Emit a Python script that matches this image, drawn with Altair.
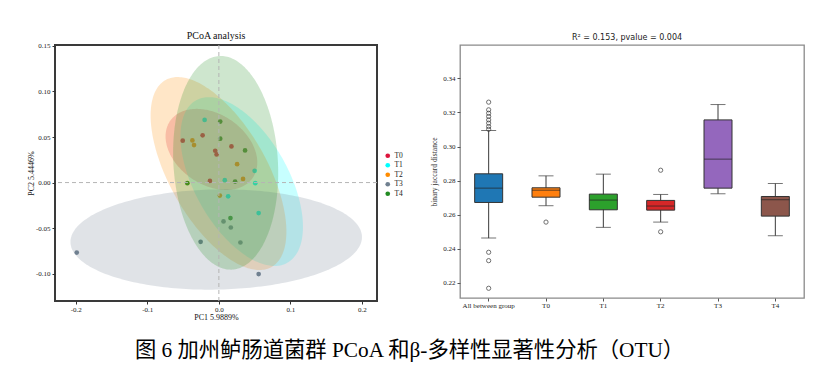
import altair as alt
import numpy as np
import pandas as pd

# ---------------- PCoA data (left panel) ----------------
groups = ["T0", "T1", "T2", "T3", "T4"]
group_colors = ["#DC143C", "#00FFFF", "#FF8C00", "#708090", "#228B22"]

pc1_T0 = [-0.0505, -0.0227, -0.0051, -0.0032, 0.0176, -0.0125]
pc2_T0 = [0.0460, 0.0518, 0.0349, 0.0309, 0.0397, 0.0018]
pc1_T1 = [-0.0199, 0.0083, 0.0130, 0.0500, 0.0509, 0.0556]
pc2_T1 = [0.0688, 0.0026, -0.0151, 0.0129, -0.0007, -0.0335]
pc1_T2 = [-0.0370, -0.0347, 0.0255, 0.0338, 0.0014]
pc2_T2 = [0.0463, 0.0412, 0.0202, 0.0040, -0.0143]
pc1_T3 = [-0.1986, -0.0255, 0.0065, 0.0167, 0.0301, 0.0556]
pc2_T3 = [-0.0768, -0.0651, -0.0426, -0.0493, -0.0658, -0.1004]
pc1_T4 = [0.0019, 0.0019, 0.0366, 0.0227, -0.0440, 0.0162]
pc2_T4 = [0.0669, 0.0482, 0.0353, 0.0011, -0.0007, -0.0390]

# confidence ellipses (data units)
ell_cx = [-0.0104, 0.0319, -0.0005, -0.0037, 0.0095]
ell_cy = [0.0364, 0.0011, 0.0099, -0.0625, 0.0217]
ell_a = [0.0667, 0.1107, 0.1275, 0.2037, 0.1176]
ell_b = [0.0405, 0.0605, 0.0630, 0.0550, 0.0729]
ell_angle = [-20.4, -49.2, -50.2, 0.8, -84.5]

pc1_title = "PC1 5.9889%"
pc2_title = "PC2 5.4446%"

# ---------------- beta-diversity boxplot (right panel) ----------------
box_cats = ["All between group", "T0", "T1", "T2", "T3", "T4"]
box_colors = ["#1f77b4", "#ff7f0e", "#2ca02c", "#d62728", "#9467bd", "#8c564b"]
box_low = [0.2463, 0.2653, 0.2526, 0.2557, 0.2723, 0.2477]
box_q1 = [0.2672, 0.2703, 0.2629, 0.2627, 0.2756, 0.2592]
box_med = [0.2756, 0.2744, 0.2686, 0.2651, 0.2926, 0.2688]
box_q3 = [0.2840, 0.2758, 0.2721, 0.2684, 0.3156, 0.2707]
box_high = [0.3094, 0.2828, 0.2838, 0.2719, 0.3246, 0.2783]

out_cat = ["All between group"] * 11 + ["T0", "T2", "T2"]
out_val = [0.3260, 0.3215, 0.3195, 0.3176, 0.3156, 0.3137, 0.3117, 0.3101,
           0.2380, 0.2331, 0.2169, 0.2557, 0.2861, 0.2500]

caption = "图 6 加州鲈肠道菌群 PCoA 和β-多样性显著性分析（OTU）"

SERIF = "Liberation Serif"

# ---------------- build tables ----------------
pc1 = [pc1_T0, pc1_T1, pc1_T2, pc1_T3, pc1_T4]
pc2 = [pc2_T0, pc2_T1, pc2_T2, pc2_T3, pc2_T4]
pts = pd.DataFrame(
    [(g, x, y) for g, xs, ys in zip(groups, pc1, pc2) for x, y in zip(xs, ys)],
    columns=["group", "pc1", "pc2"],
)

rows = []
for g, cx, cy, a, b, ang in zip(groups, ell_cx, ell_cy, ell_a, ell_b, ell_angle):
    th = np.deg2rad(ang)
    c, s = np.cos(th), np.sin(th)
    s11 = a * a * c * c + b * b * s * s
    s22 = a * a * s * s + b * b * c * c
    s12 = (a * a - b * b) * s * c
    det = s11 * s22 - s12 * s12
    for t in np.linspace(np.pi, 0, 121):
        dx = np.sqrt(s11) * np.cos(t)
        mid = s12 / s11 * dx
        half = np.sqrt(max(det / s11 * (1 - dx * dx / s11), 0))
        rows.append((g, cx + dx, cy + mid - half, cy + mid + half))
ell = pd.DataFrame(rows, columns=["group", "x", "ylo", "yhi"])

color_scale = alt.Scale(domain=groups, range=group_colors)
xs = alt.Scale(domain=[-0.229, 0.221], nice=False, zero=False)
ys = alt.Scale(domain=[-0.130, 0.151], nice=False, zero=False)

neg_lbl = "datum.value < 0 ? '-' + format(-datum.value, '{f}') : format(datum.value, '{f}')"

x_axis = alt.Axis(values=[-0.2, -0.1, 0.0, 0.1, 0.2], labelExpr=neg_lbl.format(f=".1f"),
                  title=pc1_title, grid=False, domain=False, tickSize=3, tickColor="#333",
                  labelFont=SERIF, labelFontSize=7, labelColor="#222", labelPadding=1,
                  titleFont=SERIF, titleFontSize=8, titleFontWeight="normal",
                  titleColor="#111", titlePadding=1)
y_axis = alt.Axis(values=[-0.10, -0.05, 0.0, 0.05, 0.10, 0.15], labelExpr=neg_lbl.format(f=".2f"),
                  title=pc2_title, grid=False, domain=False, tickSize=3, tickColor="#333",
                  labelFont=SERIF, labelFontSize=7, labelColor="#222", labelPadding=2,
                  titleFont=SERIF, titleFontSize=8, titleFontWeight="normal",
                  titleColor="#111", titlePadding=0)

legend = alt.Legend(
    title=None, orient="none", legendX=329, legendY=107,
    labelFont=SERIF, labelFontSize=7.5, labelColor="#222", symbolSize=22,
    symbolType="circle", symbolOpacity=1, symbolStrokeWidth=0, rowPadding=0.5, labelOffset=3)

points = alt.Chart(pts).mark_circle(size=22, opacity=1).encode(
    x=alt.X("pc1:Q", scale=xs, axis=x_axis),
    y=alt.Y("pc2:Q", scale=ys, axis=y_axis),
    color=alt.Color("group:N", scale=color_scale, legend=legend),
)

ellipses = alt.Chart(ell).mark_area(fillOpacity=0.22, strokeWidth=0).encode(
    x=alt.X("x:Q", scale=xs),
    y=alt.Y("ylo:Q", scale=ys, stack=None),
    y2="yhi:Q",
    color=alt.Color("group:N", scale=color_scale, legend=legend),
    detail="group:N",
)

vline = alt.Chart(pd.DataFrame({"v": [0.0]})).mark_rule(
    strokeDash=[4, 3], color="#b5b5b5", strokeWidth=1).encode(x=alt.X("v:Q", scale=xs))
hline = alt.Chart(pd.DataFrame({"v": [0.0]})).mark_rule(
    strokeDash=[4, 3], color="#b5b5b5", strokeWidth=1).encode(y=alt.Y("v:Q", scale=ys))

left = alt.layer(points, ellipses, vline, hline).properties(
    width=322, height=256,
    title=alt.TitleParams("PCoA analysis", font=SERIF, fontSize=10, fontWeight="normal",
                          color="#111", offset=1),
    view=alt.ViewBackground(stroke="#3a3a3a", strokeWidth=2),
)

# ---------------- right panel ----------------
boxes = pd.DataFrame({"cat": box_cats, "low": box_low, "q1": box_q1, "med": box_med,
                      "q3": box_q3, "high": box_high})
outs = pd.DataFrame({"cat": out_cat, "val": out_val})

bx = alt.Scale(domain=box_cats, paddingInner=0, paddingOuter=0)
by = alt.Scale(domain=[0.2112, 0.3595], nice=False, zero=False)
box_color = alt.Scale(domain=box_cats, range=box_colors)

bx_axis = alt.Axis(title=None, labelAngle=0, grid=False, domain=False, tickSize=3,
                   tickColor="#555", labelFont=SERIF, labelFontSize=7, labelColor="#222",
                   labelPadding=0)
by_axis = alt.Axis(values=[0.22, 0.24, 0.26, 0.28, 0.30, 0.32, 0.34], format=".2f",
                   title="binary jaccard distance", grid=False, domain=False, tickSize=3,
                   tickColor="#555", labelFont=SERIF, labelFontSize=7, labelColor="#222",
                   labelPadding=2, titleFont=SERIF, titleFontSize=7.5,
                   titleFontWeight="normal", titleColor="#333", titlePadding=4)

whisk = alt.Chart(boxes).mark_rule(color="#3a3a3a", strokeWidth=1).encode(
    x=alt.X("cat:N", scale=bx, axis=bx_axis, sort=box_cats),
    y=alt.Y("low:Q", scale=by, axis=by_axis),
    y2="high:Q",
)
body = alt.Chart(boxes).mark_bar(size=28, stroke="#333", strokeWidth=1).encode(
    x=alt.X("cat:N", scale=bx, sort=box_cats),
    y=alt.Y("q1:Q", scale=by),
    y2="q3:Q",
    fill=alt.Fill("cat:N", scale=box_color, legend=None),
)
median = alt.Chart(boxes).mark_tick(size=28, thickness=1, color="#222").encode(
    x=alt.X("cat:N", scale=bx, sort=box_cats), y=alt.Y("med:Q", scale=by))
cap_lo = alt.Chart(boxes).mark_tick(size=15, thickness=1, color="#3a3a3a").encode(
    x=alt.X("cat:N", scale=bx, sort=box_cats), y=alt.Y("low:Q", scale=by))
cap_hi = alt.Chart(boxes).mark_tick(size=15, thickness=1, color="#3a3a3a").encode(
    x=alt.X("cat:N", scale=bx, sort=box_cats), y=alt.Y("high:Q", scale=by))
fliers = alt.Chart(outs).mark_point(shape="circle", filled=False, size=18, color="#333",
                                    strokeWidth=1).encode(
    x=alt.X("cat:N", scale=bx, sort=box_cats), y=alt.Y("val:Q", scale=by))

right = alt.layer(whisk, body, median, cap_lo, cap_hi, fliers).properties(
    width=344, height=253,
    title=alt.TitleParams("R² = 0.153, pvalue = 0.004", font="DejaVu Sans", fontSize=8,
                          fontWeight="normal", color="#222", offset=3, dx=-5),
    view=alt.ViewBackground(stroke="#8a8a8a", strokeWidth=1.3),
)

chart = alt.hconcat(left, right, spacing=26).resolve_scale(
    color="independent", fill="independent", x="independent", y="independent"
).properties(
    title=alt.TitleParams(caption, orient="bottom", anchor="middle",
                          font=SERIF + ", Noto Sans CJK SC", fontSize=21.3,
                          fontWeight="normal", color="#000", offset=18, dx=-6),
    padding={"left": 18, "top": 21, "right": 5, "bottom": 5},
).configure_view(strokeWidth=0)

chart.save("out.html", embed_options={"renderer": "svg", "actions": False})
